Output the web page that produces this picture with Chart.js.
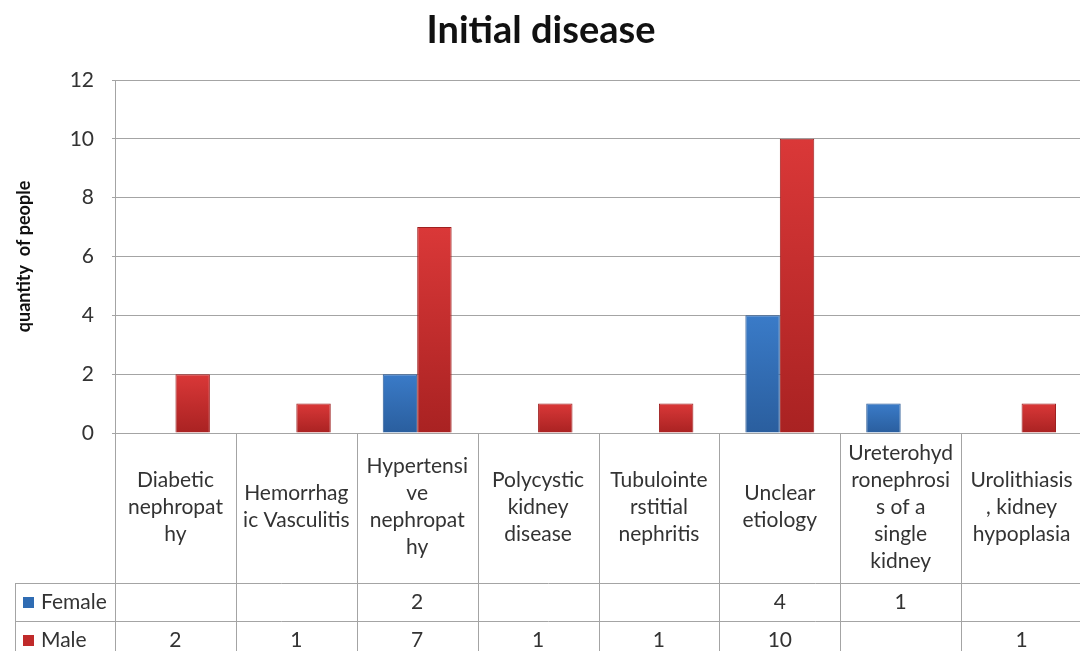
<!DOCTYPE html>
<html>
<head>
  <meta charset="UTF-8">
  <title>Initial disease</title>
  <script src="https://cdn.jsdelivr.net/npm/chart.js"></script>
  <style>
    html, body {
      margin: 0;
      padding: 0;
      background: #ffffff;
      overflow: hidden;
    }
    #wrap {
      width: 1090px;
      height: 651px;
    }
  </style>
</head>
<body>
  <div id="wrap"><canvas id="diseaseChart" width="1090" height="651"></canvas></div>

  <script>
    // category names, already broken into lines the way the table shows them
    const categories = [
      ['Diabetic', 'nephropat', 'hy'],
      ['Hemorrhag', 'ic Vasculitis'],
      ['Hypertensi', 've', 'nephropat', 'hy'],
      ['Polycystic', 'kidney', 'disease'],
      ['Tubulointe', 'rstitial', 'nephritis'],
      ['Unclear', 'etiology'],
      ['Ureterohyd', 'ronephrosi', 's of a', 'single', 'kidney'],
      ['Urolithiasis', ', kidney', 'hypoplasia']
    ];
    const female = [null, null, 2, null, null, 4, 1, null];
    const male = [2, 1, 7, 1, 1, 10, null, 1];
    const yTicks = [0, 2, 4, 6, 8, 10, 12];

    const FONT = 'Lato, "Open Sans", sans-serif';
    const GRID = '#a4a4a4';
    const TEXT = '#333333';

    // vertical shading for each bar, light at the top and darker at the base
    function barFill(top, bottom) {
      return (ctx) => {
        const chart = ctx.chart;
        const y = chart.scales.y;
        if (!y || ctx.parsed == null || ctx.parsed.y == null) return top;
        const y0 = y.getPixelForValue(ctx.parsed.y);
        const y1 = y.getPixelForValue(0);
        if (!isFinite(y0) || !isFinite(y1) || y0 === y1) return top;
        const g = chart.ctx.createLinearGradient(0, y0, 0, y1);
        g.addColorStop(0, top);
        g.addColorStop(1, bottom);
        return g;
      };
    }

    // data table under the plot: category names, then one row per series
    const dataTable = {
      id: 'dataTable',
      afterDraw(chart) {
        const ctx = chart.ctx;
        const area = chart.chartArea;
        const colW = (area.right - area.left) / categories.length;
        const legendLeft = 15;
        const rowTop = 583, rowMid = 621, rowBottom = 659;
        const rows = [
          { name: 'Female', values: female, color: '#2f6cb3', y: 602 },
          { name: 'Male', values: male, color: '#c02a2a', y: 640 }
        ];

        ctx.save();
        ctx.strokeStyle = GRID;
        ctx.lineWidth = 1;
        ctx.beginPath();
        for (let i = 0; i <= categories.length; i++) {
          const x = Math.round(area.left + i * colW) + 0.5;
          ctx.moveTo(x, area.bottom);
          ctx.lineTo(x, rowBottom);
        }
        ctx.moveTo(legendLeft + 0.5, rowTop);
        ctx.lineTo(legendLeft + 0.5, rowBottom);
        ctx.moveTo(legendLeft, rowTop + 0.5);
        ctx.lineTo(area.right, rowTop + 0.5);
        ctx.moveTo(legendLeft, rowMid + 0.5);
        ctx.lineTo(area.right, rowMid + 0.5);
        ctx.stroke();

        ctx.fillStyle = TEXT;
        ctx.font = '21px ' + FONT;
        ctx.textAlign = 'center';
        ctx.textBaseline = 'middle';
        const lineH = 27;
        categories.forEach((lines, i) => {
          const cx = area.left + (i + 0.5) * colW;
          const startY = 507 - (lines.length - 1) * lineH / 2;
          lines.forEach((t, j) => ctx.fillText(t, cx, startY + j * lineH));
        });

        rows.forEach(r => {
          r.values.forEach((v, i) => {
            if (v == null) return;
            ctx.fillText(String(v), area.left + (i + 0.5) * colW, r.y);
          });
          ctx.fillStyle = r.color;
          ctx.fillRect(23, r.y - 5, 11, 11);
          ctx.fillStyle = TEXT;
          ctx.textAlign = 'left';
          ctx.fillText(r.name, 41, r.y);
          ctx.textAlign = 'center';
        });
        ctx.restore();
      }
    };

    const ctx = document.getElementById('diseaseChart').getContext('2d');
    new Chart(ctx, {
      type: 'bar',
      data: {
        labels: categories.map(c => c.join(' ')),
        datasets: [{
          label: 'Female',
          data: female,
          backgroundColor: barFill('#3a7bc8', '#2a5e9e'),
          borderColor: '#2a5a96',
          borderWidth: 1
        }, {
          label: 'Male',
          data: male,
          backgroundColor: barFill('#da3838', '#a92222'),
          borderColor: '#9e2020',
          borderWidth: 1
        }]
      },
      options: {
        responsive: false,
        animation: false,
        categoryPercentage: 0.57,
        barPercentage: 1,
        layout: { padding: { left: 0, right: 8, top: 0, bottom: 0 } },
        plugins: {
          legend: { display: false },
          tooltip: { enabled: false },
          title: {
            display: true,
            text: 'Initial disease',
            color: '#111111',
            font: { family: FONT, size: 38, weight: 'bold' },
            padding: { top: 8, bottom: 26.4 }
          }
        },
        scales: {
          x: {
            ticks: { display: false },
            grid: { display: false },
            border: { display: false },
            afterFit(s) { s.height = 218; }
          },
          y: {
            min: 0,
            max: 12,
            afterBuildTicks(s) { s.ticks = yTicks.map(v => ({ value: v })); },
            ticks: {
              color: TEXT,
              font: { family: FONT, size: 21 },
              padding: 18
            },
            grid: { color: GRID, tickLength: 3 },
            border: { color: GRID },
            title: {
              display: true,
              text: 'quantity  of people',
              color: '#111111',
              font: { family: FONT, size: 18, weight: 'bold' },
              padding: { top: 13, bottom: 0 }
            },
            afterFit(s) { s.width = 115; }
          }
        }
      },
      plugins: [dataTable]
    });
  </script>
</body>
</html>
